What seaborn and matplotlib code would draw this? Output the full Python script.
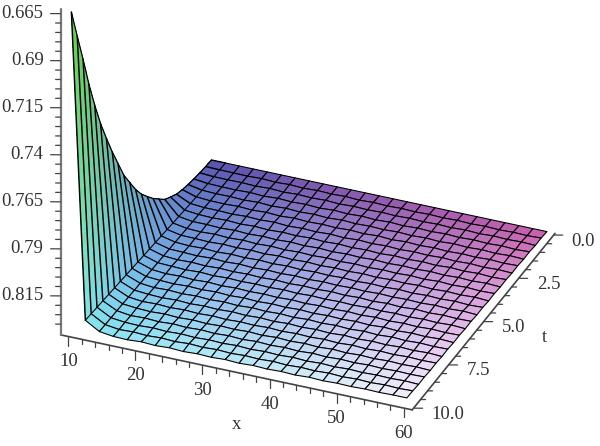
import numpy as np
import matplotlib
matplotlib.use("Agg")
import matplotlib.pyplot as plt
from mpl_toolkits.mplot3d import proj3d
import seaborn as sns

x_values = [10.0, 12.08, 14.17, 16.25, 18.33, 20.42, 22.5, 24.58, 26.67, 28.75, 30.83, 32.92, 35.0,
            37.08, 39.17, 41.25, 43.33, 45.42, 47.5, 49.58, 51.67, 53.75, 55.83, 57.92, 60.0]
t_values = [0.0, 0.417, 0.833, 1.25, 1.667, 2.083, 2.5, 2.917, 3.333, 3.75, 4.167, 4.583, 5.0,
            5.417, 5.833, 6.25, 6.667, 7.083, 7.5, 7.917, 8.333, 8.75, 9.167, 9.583, 10.0]

# one list per x column, going along t
z00 = [.8373,.8370,.8366,.8361,.8353,.8343,.8330,.8307,.8283,.8243,.8203,.8155,.8105,.8043,.7968,.7893,.7793,.7693,.7584,.7468,.7333,.7183,.7013,.6853,.6688]
z01 = [.8373,.8372,.8371,.8370,.8368,.8366,.8364,.8361,.8358,.8355,.8352,.8349,.8346,.8343,.8340,.8337,.8334,.8331,.8328,.8325,.8322,.8319,.8316,.8313,.8310]
z02 = [.8373,.8373,.8372,.8372,.8371,.8371,.8370,.8369,.8369,.8368,.8367,.8366,.8365,.8364,.8363,.8362,.8361,.8360,.8359,.8358,.8357,.8356,.8356,.8355,.8354]
z03 = [.8373,.8374,.8371,.8373,.8370,.8372,.8370,.8371,.8369,.8371,.8368,.8370,.8367,.8369,.8366,.8368,.8366,.8367,.8365,.8366,.8364,.8366,.8364,.8365,.8364]
z04 = [.8373,.8371,.8374,.8370,.8373,.8369,.8373,.8368,.8372,.8367,.8371,.8367,.8370,.8366,.8369,.8365,.8369,.8364,.8368,.8363,.8367,.8363,.8366,.8362,.8366]
z05 = [.8373,.8375,.8370,.8374,.8369,.8373,.8369,.8372,.8368,.8371,.8367,.8371,.8366,.8370,.8365,.8369,.8365,.8368,.8364,.8367,.8363,.8367,.8362,.8366,.8361]
z06 = [.8373,.8371,.8374,.8369,.8373,.8369,.8372,.8368,.8372,.8367,.8370,.8367,.8370,.8366,.8369,.8365,.8368,.8364,.8368,.8363,.8367,.8362,.8366,.8362,.8365]
z07 = [.8373,.8375,.8370,.8373,.8369,.8373,.8368,.8372,.8368,.8371,.8367,.8370,.8366,.8369,.8365,.8369,.8364,.8368,.8364,.8367,.8363,.8366,.8362,.8366,.8361]
z08 = [.8373,.8371,.8373,.8370,.8373,.8368,.8373,.8368,.8371,.8367,.8371,.8366,.8370,.8366,.8368,.8365,.8368,.8364,.8367,.8363,.8367,.8362,.8366,.8361,.8365]
z09 = [.8373,.8374,.8370,.8374,.8369,.8372,.8369,.8371,.8367,.8371,.8366,.8370,.8366,.8369,.8365,.8368,.8364,.8368,.8363,.8367,.8363,.8366,.8362,.8365,.8361]
z10 = [.8373,.8371,.8374,.8369,.8373,.8369,.8372,.8367,.8371,.8367,.8370,.8366,.8369,.8365,.8368,.8365,.8368,.8363,.8367,.8363,.8366,.8362,.8365,.8361,.8364]
z11 = [.8373,.8375,.8370,.8373,.8368,.8372,.8368,.8371,.8367,.8370,.8366,.8370,.8365,.8369,.8364,.8368,.8364,.8367,.8363,.8366,.8362,.8366,.8361,.8365,.8360]
z12 = [.8373,.8371,.8373,.8369,.8372,.8368,.8372,.8367,.8371,.8366,.8370,.8366,.8369,.8365,.8368,.8364,.8367,.8363,.8367,.8362,.8366,.8361,.8365,.8361,.8364]
z13 = [.8373,.8374,.8370,.8373,.8369,.8372,.8367,.8371,.8367,.8370,.8366,.8369,.8365,.8368,.8364,.8368,.8363,.8367,.8362,.8366,.8361,.8365,.8361,.8364,.8360]
z14 = [.8373,.8371,.8373,.8369,.8372,.8367,.8371,.8367,.8370,.8366,.8369,.8365,.8368,.8364,.8367,.8364,.8367,.8362,.8366,.8362,.8365,.8361,.8364,.8360,.8363]
z15 = [.8373,.8374,.8370,.8373,.8368,.8372,.8367,.8371,.8366,.8370,.8365,.8369,.8365,.8368,.8364,.8367,.8363,.8366,.8362,.8365,.8361,.8365,.8360,.8364,.8360]
z16 = [.8373,.8371,.8373,.8369,.8372,.8367,.8371,.8366,.8370,.8366,.8369,.8365,.8368,.8364,.8367,.8363,.8366,.8362,.8366,.8361,.8365,.8360,.8364,.8360,.8363]
z17 = [.8373,.8374,.8370,.8372,.8368,.8371,.8367,.8370,.8366,.8369,.8365,.8368,.8364,.8368,.8363,.8367,.8362,.8366,.8361,.8365,.8360,.8364,.8360,.8363,.8359]
z18 = [.8373,.8371,.8373,.8368,.8372,.8367,.8370,.8366,.8369,.8365,.8368,.8364,.8367,.8363,.8366,.8362,.8366,.8361,.8365,.8360,.8364,.8360,.8363,.8359,.8362]
z19 = [.8373,.8374,.8369,.8372,.8367,.8371,.8366,.8370,.8365,.8369,.8364,.8368,.8364,.8367,.8363,.8366,.8361,.8365,.8361,.8364,.8360,.8363,.8359,.8363,.8359]
z20 = [.8373,.8371,.8373,.8368,.8371,.8367,.8370,.8365,.8369,.8364,.8368,.8364,.8367,.8362,.8366,.8362,.8365,.8360,.8364,.8360,.8363,.8359,.8362,.8359,.8361]
z21 = [.8373,.8374,.8369,.8372,.8367,.8370,.8366,.8369,.8365,.8368,.8364,.8367,.8363,.8366,.8362,.8365,.8361,.8364,.8360,.8363,.8359,.8362,.8359,.8362,.8358]
z22 = [.8373,.8371,.8372,.8368,.8371,.8366,.8370,.8365,.8368,.8364,.8367,.8363,.8366,.8362,.8365,.8361,.8364,.8360,.8363,.8359,.8362,.8359,.8361,.8358,.8360]
z23 = [.8373,.8373,.8369,.8372,.8367,.8370,.8366,.8369,.8364,.8368,.8363,.8367,.8362,.8365,.8361,.8364,.8360,.8363,.8359,.8362,.8359,.8361,.8358,.8361,.8358]
z24 = [.8373,.8370,.8372,.8368,.8370,.8367,.8369,.8366,.8368,.8365,.8367,.8364,.8366,.8363,.8365,.8362,.8364,.8361,.8363,.8360,.8362,.8359,.8361,.8358,.8358]

x_ticks = [10, 20, 30, 40, 50, 60]
x_minor = [12, 14, 16, 18, 22, 24, 26, 28, 32, 34, 36, 38, 42, 44, 46, 48, 52, 54, 56, 58]
t_ticks = [0.0, 2.5, 5.0, 7.5, 10.0]
t_minor = [0.5, 1.0, 1.5, 2.0, 3.0, 3.5, 4.0, 4.5, 5.5, 6.0, 6.5, 7.0, 8.0, 8.5, 9.0, 9.5]
z_ticks = [0.665, 0.69, 0.715, 0.74, 0.765, 0.79, 0.815]
z_minor = [0.67, 0.675, 0.68, 0.685, 0.695, 0.70, 0.705, 0.71, 0.72, 0.725, 0.73, 0.735,
           0.745, 0.75, 0.755, 0.76, 0.77, 0.775, 0.78, 0.785, 0.795, 0.80, 0.805, 0.81, 0.82, 0.825, 0.83]

sns.set_theme(style="white")
plt.rcParams['font.family'] = ['Liberation Serif', 'DejaVu Serif']

X, T = np.meshgrid(x_values, t_values, indexing='ij')
Z = np.array([z00, z01, z02, z03, z04, z05, z06, z07, z08, z09, z10, z11, z12,
              z13, z14, z15, z16, z17, z18, z19, z20, z21, z22, z23, z24])


# colour by position, red with x, green with t, blue falls with height
def surface_colours(xs, ts, zs):
    xn = (xs - 10) / 50
    tn = ts / 10
    zn = np.clip((0.8373 - zs) / 0.1685, 0, 1)
    rgb = np.dstack([0.35 + 0.46 * xn + 0.16 * tn - 0.09 * zn,
                     0.34 + 0.57 * tn ** 0.85 + 0.04 * xn - 0.09 * zn,
                     0.69 + 0.26 * (1 - (1 - tn) ** 2) + 0.04 * xn * tn - 0.68 * zn])
    return np.clip(rgb, 0, 1)


x_lo, x_hi = 9.1, 61.0
t_lo, t_hi = -0.1, 10.1
z_top, z_bot = 0.6625, 0.8373
x_start = 8.6

L = 1000
fig = plt.figure(figsize=(6.0, 4.46), dpi=100)
ax = fig.add_axes([(309.5 - 0.5135 * L) / 600, (330 - 0.5135 * L) / 446, L / 600, L / 446],
                  projection='3d', proj_type='ortho', computed_zorder=False)
ax.set_box_aspect((377, 368, 381), zoom=1.418 * 446 / L)
ax.view_init(elev=30.5, azim=-67.2)
ax.patch.set_alpha(0)

# wall between the first two columns, split so the colour can run along each strip
blend = np.linspace(0, 1, 13)[:, None]
wx = X[0] * (1 - blend) + X[1] * blend
wt = T[0] * (1 - blend) + T[1] * blend
wz = Z[0] * (1 - blend) + Z[1] * blend
ax.plot_surface(wx, wt, wz, facecolors=surface_colours(wx, wt, wz), rcount=13, ccount=25, shade=False,
                linewidth=0, antialiased=False, zorder=3)
for j in range(len(t_values)):
    ax.plot(X[:2, j], T[:2, j], Z[:2, j], color='black', lw=1.05, zorder=3.5)
ax.plot(X[0], T[0], Z[0], color='black', lw=0.9, zorder=3.5)

ax.plot_surface(X[1:], T[1:], Z[1:], facecolors=surface_colours(X[1:], T[1:], Z[1:]), rcount=24, ccount=25,
                shade=False, edgecolor='black', linewidth=0.78, antialiased=True, zorder=4)

ax.set_xlim(x_lo, x_hi)
ax.set_ylim(t_hi, t_lo)
ax.set_zlim(z_bot, z_top)
ax.set_xticks([])
ax.set_yticks([])
ax.set_zticks([])
ax.set_axis_off()

axis_c = '#444444'
text_c = '#333333'
px_x, px_t, px_z = 0.127, 0.0105, 1 / 1880
shift_x = 2 * px_x
z_front = z_bot + 6 * px_z
z_back = z_bot + 2 * px_z
z_shift = 9 * px_z


def t_level(v):
    return z_back + (z_front - z_back) * v / 10


ax.plot([x_start, x_hi], [t_hi, t_hi], [z_front, z_front], color=axis_c, lw=1.2, zorder=2)
ax.plot([x_hi, x_hi], [t_hi, t_lo], [z_front, z_back], color=axis_c, lw=1.2, zorder=2)
ax.plot([x_start, x_start], [t_hi, t_hi], [z_front, z_top + z_shift], color='#777777', lw=1.6, zorder=2)

# tick marks: vertical on x, horizontal on t and z
for vals, size in ((x_ticks, 9), (x_minor, 5)):
    for v in vals:
        ax.plot([v - shift_x, v - shift_x], [t_hi, t_hi], [z_front, z_front + size * px_z],
                color=axis_c, lw=0.9, zorder=2)
for vals, size in ((t_ticks, 9), (t_minor, 5)):
    for v in vals:
        ax.plot([x_hi, x_hi + size * px_x], [v, v - size * px_t], [t_level(v), t_level(v)],
                color=axis_c, lw=0.9, zorder=2)
for vals, size in ((z_ticks, 10), (z_minor, 5)):
    for v in vals:
        ax.plot([x_start, x_start - size * px_x], [t_hi, t_hi + size * px_t], [v + z_shift, v + z_shift],
                color=axis_c, lw=0.9, zorder=2)


# labels go in as plain 2D text at the projected spot
def label(x, t, z, s, ha='center'):
    xp, yp, _ = proj3d.proj_transform(x, t, z, ax.get_proj())
    ax.text2D(xp, yp, s, transform=ax.transData, ha=ha, va='center', fontsize=13.5, color=text_c)


for v in x_ticks:
    label(v - shift_x, t_hi, z_front + 25 * px_z, str(v))
for v in t_ticks:
    label(x_hi + 18 * px_x, v - 18 * px_t, t_level(v) + 6 * px_z, f"{v:.1f}", ha='left')
for v in z_ticks:
    label(x_start - 17 * px_x, t_hi + 17 * px_t, v + z_shift, f"{v:g}", ha='right')
label(35 - shift_x, t_hi, z_front + 52 * px_z, "x")
label(x_hi + 61 * px_x, 5.0 - 61 * px_t, t_level(5.0) + 16 * px_z, "t")

fig.savefig("out.png", dpi=100)
